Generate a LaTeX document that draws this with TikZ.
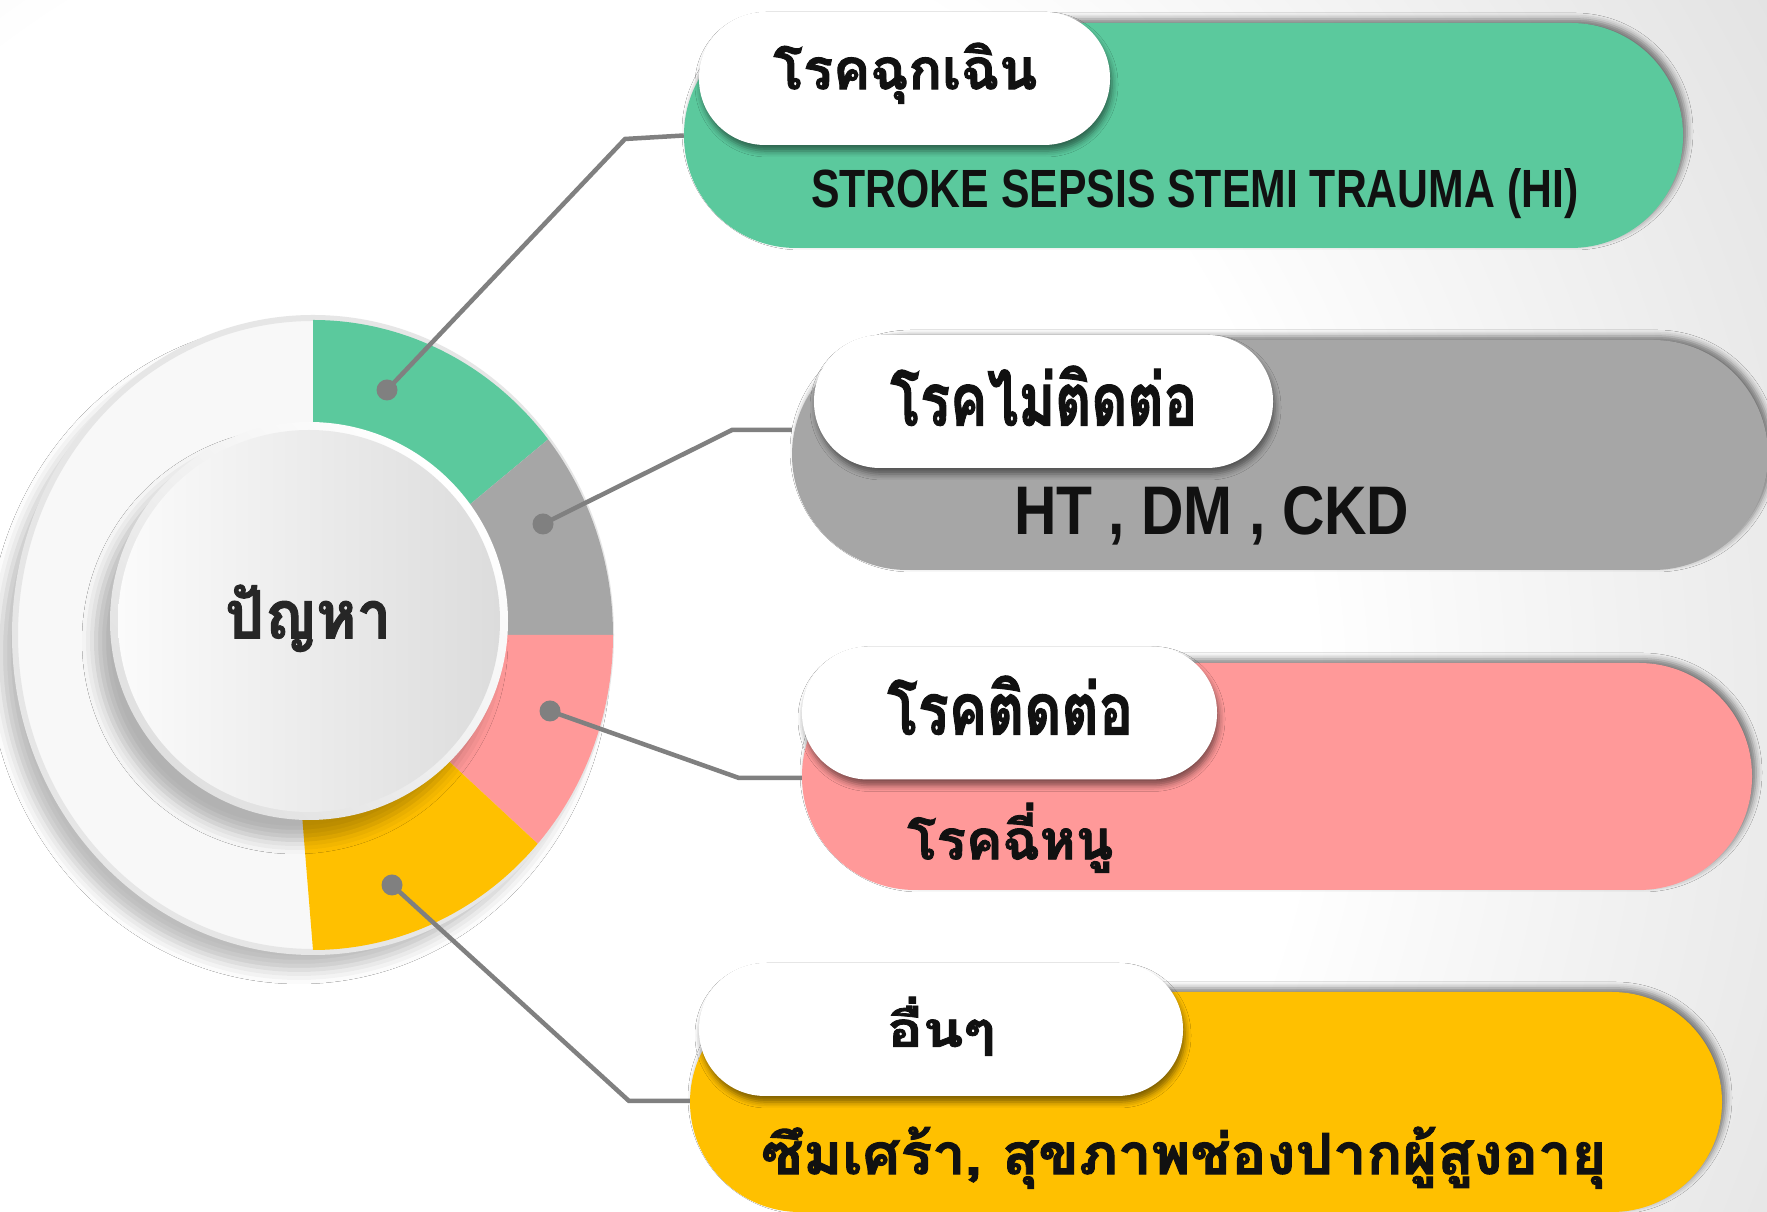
\documentclass[tikz,border=0pt]{standalone}
\usepackage{fontspec}
\usepackage{graphicx}
\usetikzlibrary{shadows.blur}
\newfontfamily\thaifont[Script=Thai, BoldFeatures={FakeBold=1.6}]{Loma}
\newfontfamily\latfont{Liberation Sans}
\definecolor{cgreen}{HTML}{5BC99D}
\definecolor{cgray}{HTML}{A6A6A6}
\definecolor{cpink}{HTML}{FF9999}
\definecolor{cyellow}{HTML}{FFC000}
\definecolor{cline}{HTML}{808080}
\definecolor{bggray}{HTML}{E3E3E3}
\definecolor{discfill}{HTML}{F8F8F8}
\definecolor{discrim}{HTML}{E6E6E6}
\definecolor{facel}{HTML}{FBFBFB}
\definecolor{facer}{HTML}{DCDCDC}
\definecolor{rimbot}{HTML}{E0E0E0}
\definecolor{txt}{HTML}{111111}
\definecolor{titlec}{HTML}{262626}
\pgfdeclareradialshading{bgshade}{\pgfpoint{0bp}{0bp}}{color(0bp)=(white); color(14bp)=(white); color(25bp)=(bggray); color(50bp)=(bggray)}
\newcommand{\fitT}[3]{\resizebox*{#1pt}{#2pt}{\thaifont\bfseries #3}}
\newcommand{\fitL}[3]{\resizebox{#1pt}{#2pt}{\latfont\bfseries #3}}
\begin{document}
\begin{tikzpicture}[x=1pt,y=1pt,
  pillbox/.style={rectangle, inner sep=0pt, blur shadow={shadow xshift=4pt, shadow yshift=4pt, shadow blur radius=6pt, shadow opacity=50}},
  tabbox/.style={rectangle, fill=white, rounded corners=66pt, minimum height=133pt, inner sep=0pt, blur shadow={shadow xshift=2pt, shadow yshift=-6pt, shadow blur radius=6pt, shadow opacity=50}},
  knob/.style={circle, fill=cline, minimum size=21pt, inner sep=0pt},
  conn/.style={draw=cline, line width=4.5pt},
  lbl/.style={inner sep=0pt, text=txt}]
\useasboundingbox (0,0) rectangle (1767,1212);
% background
\fill[bggray] (0,0) rectangle (1767,1212);
\begin{scope}
  \clip (0,0) rectangle (1767,1212);
  \shade[shading=bgshade] (500,512) circle[radius=1450pt];
\end{scope}
% ring
\coordinate (C) at (313,577);
\coordinate (I) at (309,591);
\fill[discfill, draw=discrim, line width=6pt, blur shadow={shadow xshift=-14pt, shadow yshift=-18pt, shadow blur radius=14pt, shadow opacity=26}] (C) ellipse[x radius=298pt, y radius=317pt];
\fill[cgreen] (C) -- ++(90:300pt and 315pt) arc[start angle=90, end angle=38.4, x radius=300pt, y radius=315pt] -- cycle;
\fill[cgray] (C) -- ++(38.4:300pt and 315pt) arc[start angle=38.4, end angle=0, x radius=300pt, y radius=315pt] -- cycle;
\fill[cpink] (C) -- ++(0:300pt and 315pt) arc[start angle=0, end angle=-41.5, x radius=300pt, y radius=315pt] -- cycle;
\fill[cyellow] (300,422) -- (313,262) arc[start angle=-90, end angle=-41.5, x radius=300pt, y radius=315pt] -- (C) -- cycle;
% inner circle
\shade[top color=white, bottom color=rimbot, shading angle=-45, blur shadow={shadow xshift=-14pt, shadow yshift=-20pt, shadow blur radius=14pt, shadow opacity=28}] (I) circle[radius=199pt];
\shade[left color=facel, right color=facer] (I) circle[radius=191pt];
\node[inner sep=0pt, text=titlec, anchor=south west] (title) at (225,560) {\fitT{166}{67}{ปัญหา}};
% connectors
\node[knob] (d1) at (387,822) {};
\node[knob] (d2) at (543,688) {};
\node[knob] (d3) at (550,501) {};
\node[knob] (d4) at (392,327) {};
\coordinate (k1) at (625,1073);
\coordinate (k2) at (732,782);
\coordinate (k3) at (739,434);
\coordinate (k4) at (629,111);
% pills
\node[pillbox, fill=cgreen, minimum width=999pt, minimum height=225pt, rounded corners=112pt] (p1) at (1183.5,1076.5) {};
\node[pillbox, fill=cgray, minimum width=976pt, minimum height=230pt, rounded corners=115pt] (p2) at (1280,757) {};
\node[pillbox, fill=cpink, minimum width=950pt, minimum height=227pt, rounded corners=113pt] (p3) at (1277,435.5) {};
\node[pillbox, fill=cyellow, minimum width=1032pt, minimum height=220pt, rounded corners=110pt] (p4) at (1206,110) {};
\draw[conn] (d1.center) -- (k1) -- (p1.west);
\draw[conn] (d2.center) -- (k2) -- (k2 -| p2.west);
\draw[conn] (d3.center) -- (k3) -- (k3 -| p3.west);
\draw[conn] (d4.center) -- (k4) -- (k4 -| p4.west);
% tabs
\node[tabbox, minimum width=411pt] (t1) at (904.5,1133.5) {};
\node[tabbox, minimum width=459pt] (t2) at (1043.5,810.5) {};
\node[tabbox, minimum width=415pt] (t3) at (1009.5,499) {};
\node[tabbox, minimum width=484pt] (t4) at (941,182.5) {};
% texts
\node[lbl, anchor=south west] (h1) at (773,1108) {\fitT{264}{61}{โรคฉุกเฉิน}};
\node[lbl, anchor=base west] (b1) at (811,1004) {\fitL{767}{39}{STROKE SEPSIS STEMI TRAUMA (HI)}};
\node[lbl, anchor=south west] (h2) at (890,786) {\fitT{307}{60}{โรคไม่ติดต่อ}};
\node[lbl, anchor=base west] (b2) at (1014,677) {\fitL{395}{48}{HT , DM , CKD}};
\node[lbl, anchor=south west] (h3) at (887,477) {\fitT{246}{59}{โรคติดต่อ}};
\node[lbl, anchor=south west] (b3) at (907,339) {\fitT{206}{70}{โรคฉี่หนู}};
\node[lbl, anchor=south west] (h4) at (887,156) {\fitT{108}{59}{อื่นๆ}};
\node[lbl, anchor=south west] (b4) at (761,23) {\fitT{845}{62}{ซึมเศร้า, สุขภาพช่องปากผู้สูงอายุ}};
\end{tikzpicture}
\end{document}
